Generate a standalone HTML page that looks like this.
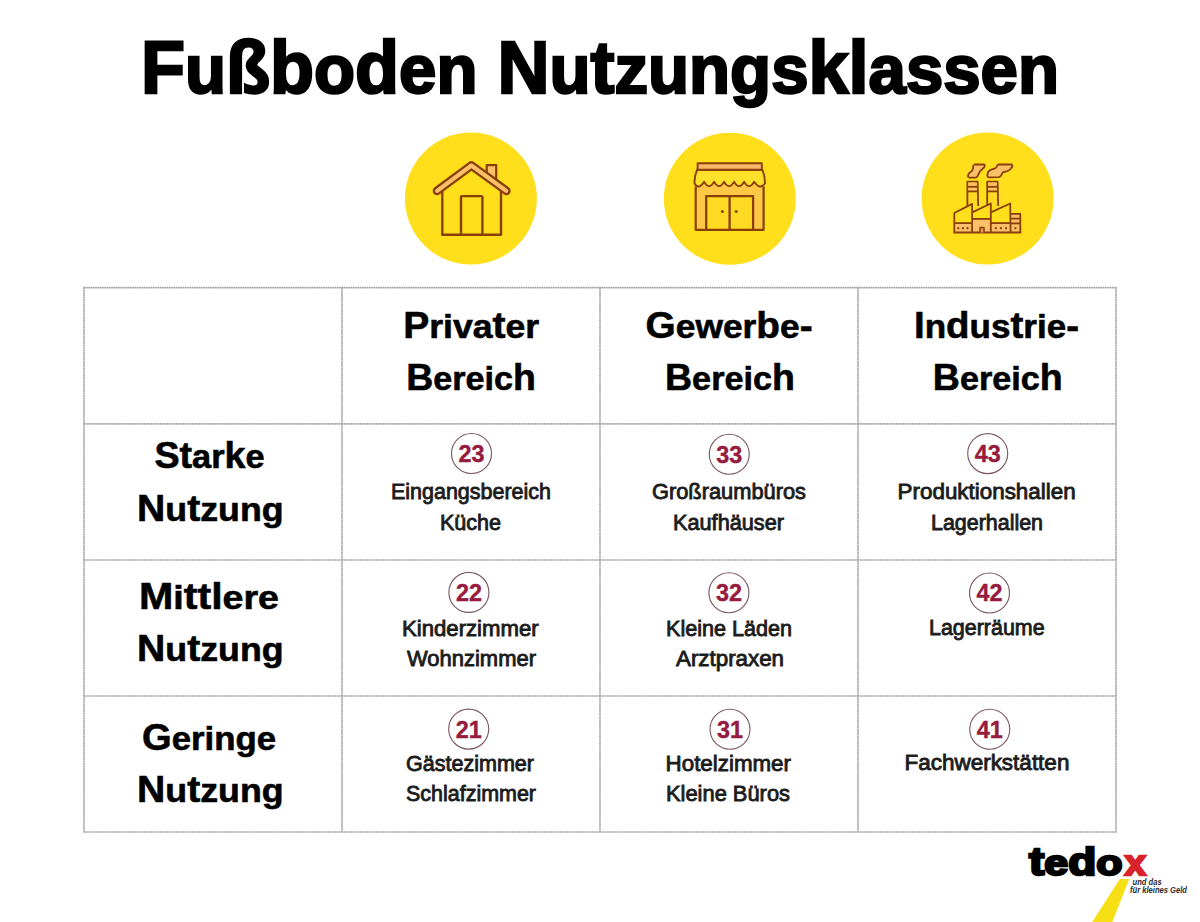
<!DOCTYPE html>
<html lang="de"><head><meta charset="utf-8"><title>Fußboden Nutzungsklassen</title>
<style>
html,body{margin:0;padding:0;background:#fff;}
body{width:1200px;height:922px;overflow:hidden;}
svg{display:block;}
.title{font-family:"Liberation Sans",Arial,sans-serif;font-weight:700;font-size:74px;fill:#000;stroke:#000;stroke-width:2.4px;}
.hd{font-family:"Liberation Sans",Arial,sans-serif;font-weight:700;font-size:37.3px;fill:#000;stroke:#000;stroke-width:0.6px;}
.tx{font-family:"Liberation Sans",Arial,sans-serif;font-weight:400;font-size:21.5px;fill:#1c1c1c;stroke:#1c1c1c;stroke-width:0.85px;}
.num{font-family:"Liberation Sans",Arial,sans-serif;font-weight:700;font-size:24px;fill:#961b3e;stroke:#961b3e;stroke-width:0.4px;}
.nc{fill:#fff;stroke:#7d5a63;stroke-width:1.15;}
.grid line{stroke:#cfcfcf;stroke-width:1.7;stroke-linecap:square;}
.grid2 line{stroke:#999;stroke-width:1.2;stroke-dasharray:1.2 1.1;}
</style></head>
<body>
<svg width="1200" height="922" viewBox="0 0 1200 922">
<rect width="1200" height="922" fill="#fff"/>
<g class="grid">
<line x1="84" y1="287.6" x2="84" y2="832"/>
<line x1="342" y1="287.6" x2="342" y2="832"/>
<line x1="600" y1="287.6" x2="600" y2="832"/>
<line x1="858" y1="287.6" x2="858" y2="832"/>
<line x1="1116" y1="287.6" x2="1116" y2="832"/>
<line x1="84" y1="287.6" x2="1116" y2="287.6"/>
<line x1="84" y1="423.9" x2="1116" y2="423.9"/>
<line x1="84" y1="560" x2="1116" y2="560"/>
<line x1="84" y1="696" x2="1116" y2="696"/>
<line x1="84" y1="832" x2="1116" y2="832"/>
</g>
<g class="grid2">
<line x1="84" y1="287.6" x2="84" y2="832"/>
<line x1="342" y1="287.6" x2="342" y2="832"/>
<line x1="600" y1="287.6" x2="600" y2="832"/>
<line x1="858" y1="287.6" x2="858" y2="832"/>
<line x1="1116" y1="287.6" x2="1116" y2="832"/>
<line x1="84" y1="287.6" x2="1116" y2="287.6"/>
<line x1="84" y1="423.9" x2="1116" y2="423.9"/>
<line x1="84" y1="560" x2="1116" y2="560"/>
<line x1="84" y1="696" x2="1116" y2="696"/>
<line x1="84" y1="832" x2="1116" y2="832"/>
</g>
<g id="icons">
<circle cx="470.9" cy="198.6" r="66" fill="#FFDE1C"/>
<circle cx="729.8" cy="198.8" r="66" fill="#FFDE1C"/>
<circle cx="987.65" cy="198.5" r="66" fill="#FFDE1C"/>
<g fill="none" stroke="#8a3f0b" stroke-width="2" stroke-linejoin="round">
<!-- house -->
<path d="M486.7,174 V165.1 H496.2 V181" fill="#FBC068" stroke-width="2.2"/>
<polyline points="437.1,190.8 471.4,165.5 506.3,190.8" stroke-width="8.8" stroke-linecap="round"/>
<polyline points="437.1,190.8 471.4,165.5 506.3,190.8" stroke="#FBC068" stroke-width="4.1" stroke-linecap="round"/>
<path d="M442.3,191 V234.7 H501 V191" stroke-width="2.4"/>
<path d="M461,234.7 V197.1 Q461,196.1 462,196.1 H481.4 Q482.4,196.1 482.4,197.1 V234.7" stroke-width="2.4"/>
<!-- shop -->
<rect x="695.7" y="184" width="67.9" height="45.8" fill="#FCC845" stroke="none"/>
<path d="M697.1,169.7 C695.2,174 694.4,178 694.4,183.3 Q698.6,190.5 704.1,181.8 Q709.1,190.5 714.1,181.8 Q719.1,190.5 724.1,181.8 Q729.1,190.5 734.1,181.8 Q739.1,190.5 744.1,181.8 Q749.1,190.5 754.1,181.8 Q760.2,190.5 765,183.3 C765,178 764.2,174 762.3,169.7 Z" fill="#FDE12A" stroke-width="1.9"/>
<rect x="697.6" y="163.3" width="64.2" height="6.4" fill="#F9B868" stroke-width="1.9"/>
<path d="M695.7,186.5 V229.8 H763.6 V186.5" stroke-width="2.2"/>
<rect x="706.2" y="196.2" width="46.9" height="33.6" fill="#FEDA22" stroke-width="2.3"/>
<line x1="729.6" y1="196.2" x2="729.6" y2="229.8" stroke-width="2.3"/>
<circle cx="722.4" cy="211.6" r="1.5" fill="#8a3f0b" stroke="none"/>
<circle cx="736.2" cy="211.6" r="1.5" fill="#8a3f0b" stroke="none"/>
<!-- factory -->
<g stroke-width="1.8">
<path d="M974.6,164.5 L984.2,164.5 Q985.4,165.6 984.4,167 L980.9,170.3 Q979.8,171.4 979.3,172.6 L977.5,176.2 Q976.8,177.6 975.3,177.6 L969,177.5 Q967.9,177.2 968,176 L968.3,174.6 Q968.9,172.8 970.4,171.9 L971.9,170.9 Q972.8,170 972.9,168.8 L973.1,166.6 Q973.4,164.9 974.6,164.5 Z" fill="#FBC068"/>
<path d="M998.2,164.5 L1011.6,164.5 Q1012.9,165.2 1012.3,166.6 L1010.5,169 Q1009.2,170.6 1006.6,171.3 L1003.6,172 Q1002.3,172.6 1001.8,174.3 L1000.9,175.8 Q1000,177.1 998.6,177.2 L988.6,177.3 Q987.3,177 987.3,175.6 L987.5,174 Q987.9,171.4 989.7,170.4 L992,169.3 L995,168.3 Q996.4,167.6 996.9,166.2 Q997.3,164.8 998.2,164.5 Z" fill="#FBC068"/>
<path d="M967.4,206 L967.4,181.7 H977.6 L978.2,206" fill="#FEDA22"/>
<path d="M987.2,206 L987.2,181.7 H997.6 L998.2,206" fill="#FEDA22"/>
<rect x="968.3" y="182.6" width="8.4" height="3.4" fill="#FBC068" stroke="none"/>
<rect x="968.3" y="187.6" width="8.4" height="3" fill="#FBC068" stroke="none"/>
<rect x="988.1" y="182.6" width="8.7" height="3.4" fill="#FBC068" stroke="none"/>
<rect x="988.1" y="187.6" width="8.7" height="3" fill="#FBC068" stroke="none"/>
<line x1="967.4" y1="186.8" x2="977.7" y2="186.8"/>
<line x1="967.4" y1="191.4" x2="977.8" y2="191.4"/>
<line x1="987.2" y1="186.8" x2="997.7" y2="186.8"/>
<line x1="987.2" y1="191.4" x2="997.8" y2="191.4"/>
<rect x="954.3" y="223.1" width="17.8" height="9.3" fill="#FBC068" stroke="none"/>
<rect x="972.1" y="218.9" width="19" height="13.5" fill="#FBC068" stroke="none"/>
<rect x="991.1" y="223.1" width="19.5" height="9.3" fill="#FBC068" stroke="none"/>
<rect x="1010.6" y="213.8" width="9.7" height="18.6" fill="#FBC068" stroke="none"/>
<path d="M954.3,232.4 V213 L972.1,203.9 V232.4" fill="none"/>
<path d="M972.1,212.4 L990.8,203.5 V232.4" fill="none"/>
<path d="M990.8,212.4 L1010.2,203.5 L1010.6,232.4" fill="none"/>
<path d="M1010.6,213.8 H1020.3 V232.4"/>
<line x1="953.4" y1="232.4" x2="1021.2" y2="232.4" stroke-width="2"/>
<line x1="954.3" y1="223.1" x2="972.1" y2="223.1"/>
<line x1="972.1" y1="218.9" x2="990.8" y2="218.9"/>
<line x1="990.8" y1="223.1" x2="1010.4" y2="223.1"/>
<line x1="1010.6" y1="218.6" x2="1020.3" y2="218.6"/>
<line x1="1010.6" y1="223.4" x2="1020.3" y2="223.4"/>
<path d="M980,232.4 V227.4 H984 V232.4" fill="#E8965A" stroke-width="1.5"/>
</g>
<g fill="#8a3f0b" stroke="none">
<rect x="957.3" y="227.2" width="2" height="2"/><rect x="961.9" y="227.2" width="2" height="2"/><rect x="966.5" y="227.2" width="2" height="2"/>
<rect x="994.8" y="227.2" width="2" height="2"/><rect x="999.9" y="227.2" width="2" height="2"/><rect x="1005" y="227.2" width="2" height="2"/>
<rect x="1014.4" y="227.2" width="2" height="2"/>
</g>
</g>
</g>

<text class="title" x="141.00" y="93.20" textLength="918.00" lengthAdjust="spacingAndGlyphs">F<tspan style="font-size:69px">u</tspan>ßb<tspan style="font-size:69px">o</tspan>d<tspan style="font-size:69px">en</tspan> N<tspan style="font-size:69px">u</tspan>t<tspan style="font-size:69px">zungs</tspan>kl<tspan style="font-size:69px">assen</tspan></text>
<text class="hd" x="403.20" y="338.20" textLength="136.00" lengthAdjust="spacingAndGlyphs">P<tspan style="font-size:34px">riva</tspan>t<tspan style="font-size:34px">er</tspan></text>
<text class="hd" x="406.20" y="390.00" textLength="129.80" lengthAdjust="spacingAndGlyphs">B<tspan style="font-size:34px">ereic</tspan>h</text>
<text class="hd" x="645.60" y="338.20" textLength="167.00" lengthAdjust="spacingAndGlyphs">G<tspan style="font-size:34px">ewer</tspan>b<tspan style="font-size:34px">e</tspan>-</text>
<text class="hd" x="665.00" y="390.00" textLength="130.00" lengthAdjust="spacingAndGlyphs">B<tspan style="font-size:34px">ereic</tspan>h</text>
<text class="hd" x="914.00" y="338.20" textLength="165.00" lengthAdjust="spacingAndGlyphs">I<tspan style="font-size:34px">n</tspan>d<tspan style="font-size:34px">us</tspan>t<tspan style="font-size:34px">rie</tspan>-</text>
<text class="hd" x="932.80" y="390.00" textLength="130.00" lengthAdjust="spacingAndGlyphs">B<tspan style="font-size:34px">ereic</tspan>h</text>
<text class="hd" x="154.40" y="468.20" textLength="110.20" lengthAdjust="spacingAndGlyphs">St<tspan style="font-size:34px">ar</tspan>k<tspan style="font-size:34px">e</tspan></text>
<text class="hd" x="137.00" y="520.70" textLength="146.60" lengthAdjust="spacingAndGlyphs">N<tspan style="font-size:34px">u</tspan>t<tspan style="font-size:34px">zung</tspan></text>
<text class="hd" x="139.00" y="608.70" textLength="140.00" lengthAdjust="spacingAndGlyphs">M<tspan style="font-size:34px">i</tspan>ttl<tspan style="font-size:34px">ere</tspan></text>
<text class="hd" x="137.00" y="660.75" textLength="146.60" lengthAdjust="spacingAndGlyphs">N<tspan style="font-size:34px">u</tspan>t<tspan style="font-size:34px">zung</tspan></text>
<text class="hd" x="142.00" y="749.75" textLength="134.00" lengthAdjust="spacingAndGlyphs">G<tspan style="font-size:34px">eringe</tspan></text>
<text class="hd" x="137.00" y="801.50" textLength="146.60" lengthAdjust="spacingAndGlyphs">N<tspan style="font-size:34px">u</tspan>t<tspan style="font-size:34px">zung</tspan></text>
<text class="tx" x="391.00" y="499.25" textLength="160.00" lengthAdjust="spacingAndGlyphs">Eingangsbereich</text>
<text class="tx" x="440.00" y="530.00" textLength="61.00" lengthAdjust="spacingAndGlyphs">Küche</text>
<text class="tx" x="652.00" y="499.25" textLength="154.00" lengthAdjust="spacingAndGlyphs">Großraumbüros</text>
<text class="tx" x="673.00" y="530.00" textLength="111.00" lengthAdjust="spacingAndGlyphs">Kaufhäuser</text>
<text class="tx" x="897.60" y="499.25" textLength="178.00" lengthAdjust="spacingAndGlyphs">Produktionshallen</text>
<text class="tx" x="931.00" y="530.00" textLength="112.00" lengthAdjust="spacingAndGlyphs">Lagerhallen</text>
<text class="tx" x="402.00" y="635.50" textLength="136.60" lengthAdjust="spacingAndGlyphs">Kinderzimmer</text>
<text class="tx" x="407.00" y="665.50" textLength="129.00" lengthAdjust="spacingAndGlyphs">Wohnzimmer</text>
<text class="tx" x="666.00" y="635.50" textLength="126.00" lengthAdjust="spacingAndGlyphs">Kleine Läden</text>
<text class="tx" x="676.00" y="665.50" textLength="108.00" lengthAdjust="spacingAndGlyphs">Arztpraxen</text>
<text class="tx" x="929.00" y="635.00" textLength="115.60" lengthAdjust="spacingAndGlyphs">Lagerräume</text>
<text class="tx" x="406.00" y="770.50" textLength="128.00" lengthAdjust="spacingAndGlyphs">Gästezimmer</text>
<text class="tx" x="406.00" y="800.80" textLength="130.00" lengthAdjust="spacingAndGlyphs">Schlafzimmer</text>
<text class="tx" x="665.60" y="770.50" textLength="125.40" lengthAdjust="spacingAndGlyphs">Hotelzimmer</text>
<text class="tx" x="666.00" y="800.80" textLength="124.00" lengthAdjust="spacingAndGlyphs">Kleine Büros</text>
<text class="tx" x="904.40" y="770.00" textLength="165.00" lengthAdjust="spacingAndGlyphs">Fachwerkstätten</text>
<circle cx="471.5" cy="453.5" r="20.0" class="nc"/>
<text class="num" x="458.50" y="461.90" textLength="26.00" lengthAdjust="spacingAndGlyphs">23</text>
<circle cx="729.25" cy="454.25" r="20.0" class="nc"/>
<text class="num" x="716.25" y="462.65" textLength="26.00" lengthAdjust="spacingAndGlyphs">33</text>
<circle cx="987.7" cy="453.6" r="20.0" class="nc"/>
<text class="num" x="974.70" y="462.00" textLength="26.00" lengthAdjust="spacingAndGlyphs">43</text>
<circle cx="468.9" cy="592.4" r="20.0" class="nc"/>
<text class="num" x="455.90" y="600.80" textLength="26.00" lengthAdjust="spacingAndGlyphs">22</text>
<circle cx="728.9" cy="592.7" r="20.0" class="nc"/>
<text class="num" x="715.90" y="601.10" textLength="26.00" lengthAdjust="spacingAndGlyphs">32</text>
<circle cx="989.5" cy="593" r="20.0" class="nc"/>
<text class="num" x="976.50" y="601.40" textLength="26.00" lengthAdjust="spacingAndGlyphs">42</text>
<circle cx="468.7" cy="729.1" r="20.0" class="nc"/>
<text class="num" x="455.70" y="737.50" textLength="26.00" lengthAdjust="spacingAndGlyphs">21</text>
<circle cx="730" cy="729.25" r="20.0" class="nc"/>
<text class="num" x="717.00" y="737.65" textLength="26.00" lengthAdjust="spacingAndGlyphs">31</text>
<circle cx="989.75" cy="729.2" r="20.0" class="nc"/>
<text class="num" x="976.75" y="737.60" textLength="26.00" lengthAdjust="spacingAndGlyphs">41</text>
<g id="logo">
<polygon points="1119.7,879 1129.2,879 1112.4,922 1092.2,922" fill="#F6E015"/>
<text x="1029" y="874.6" textLength="93.5" lengthAdjust="spacingAndGlyphs" style="font-family:'Liberation Sans',Arial,sans-serif;font-weight:700;font-size:38px;fill:#000;stroke:#000;stroke-width:2.4px">t<tspan style="font-size:35.5px">e</tspan>d<tspan style="font-size:35.5px">o</tspan></text>
<text x="1124.8" y="874.6" textLength="21.2" lengthAdjust="spacingAndGlyphs" style="font-family:'Liberation Sans',Arial,sans-serif;font-weight:700;font-size:35.5px;fill:#D9232B;stroke:#D9232B;stroke-width:2.4px">x</text>
<text x="1132.6" y="884.6" textLength="29" lengthAdjust="spacingAndGlyphs" style="font-family:'Liberation Sans',Arial,sans-serif;font-style:italic;font-weight:700;font-size:8.2px;fill:#2a2a2a">und das</text>
<text x="1130" y="892.5" textLength="57" lengthAdjust="spacingAndGlyphs" style="font-family:'Liberation Sans',Arial,sans-serif;font-style:italic;font-weight:700;font-size:8.2px;fill:#2a2a2a">für kleines Geld</text>
</g>

</svg>
</body></html>
